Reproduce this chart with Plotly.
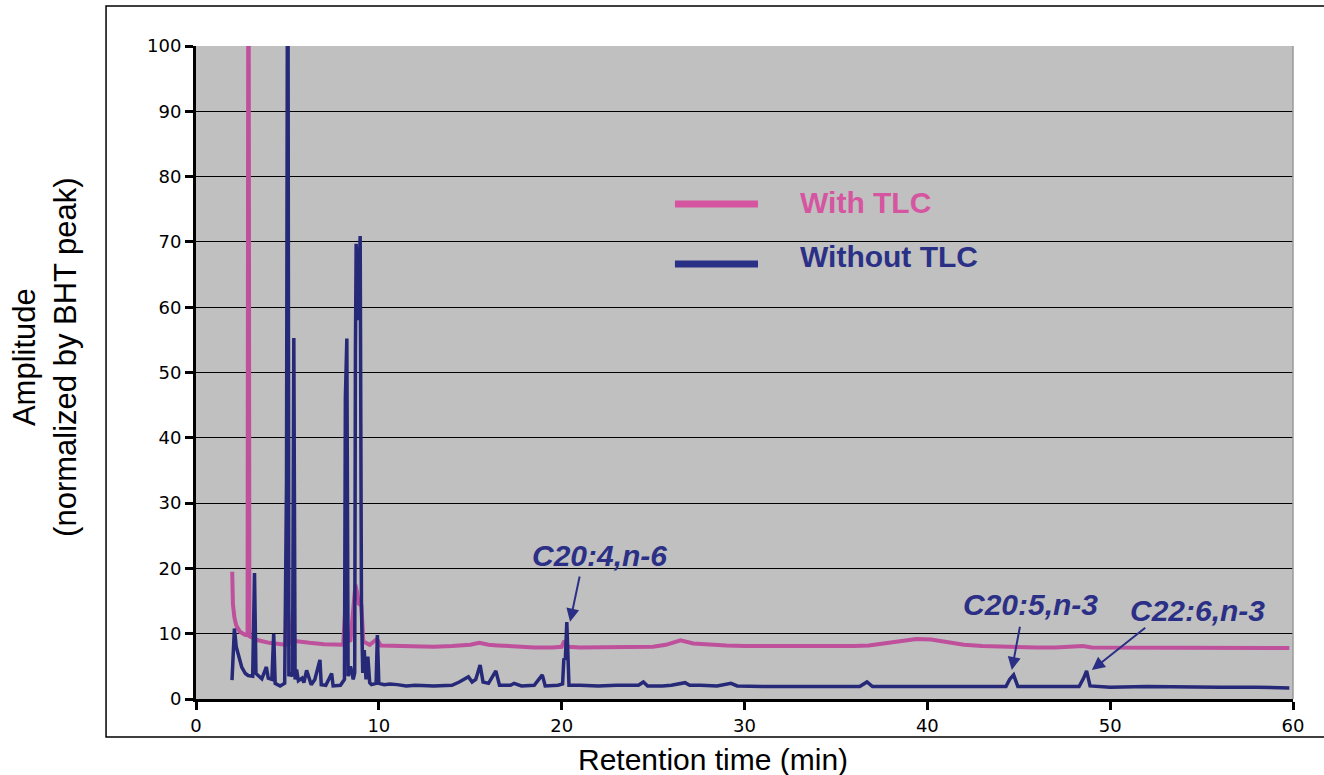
import plotly.graph_objects as go

# ---------------- data ----------------
with_tlc_t = [1.98, 2.02, 2.10, 2.20, 2.40, 2.70, 2.82, 2.87, 2.92, 3.00, 3.40, 4.00, 4.60, 4.90,
              4.96, 5.02, 5.20, 5.30, 5.38, 5.60, 6.20, 7.00, 7.80, 8.05, 8.15, 8.25, 8.45, 8.62,
              8.72, 8.80, 8.90, 9.05, 9.15, 9.50, 9.90, 10.1, 11.0, 12.0, 13.0, 14.0, 15.0, 15.5,
              16.0, 16.5, 17.5, 18.5, 19.5, 20.0, 20.15, 20.35, 21.0, 22.0, 23.0, 24.0, 25.0, 25.7,
              26.5, 27.2, 28.0, 29.0, 30.0, 31.0, 32.0, 33.0, 34.0, 35.0, 36.0, 36.8, 37.5, 38.5,
              39.4, 40.2, 41.0, 42.0, 43.0, 44.0, 45.0, 46.0, 47.0, 48.5, 49.0, 50.0, 52.0, 54.0,
              56.0, 58.0, 59.8]
with_tlc_v = [19.5, 14.5, 12.5, 11.3, 10.3, 9.8, 9.8, 140.0, 9.6, 9.5, 9.0, 8.6, 8.4, 8.3,
              21.0, 8.4, 8.6, 13.6, 8.9, 8.8, 8.6, 8.4, 8.3, 8.3, 13.1, 8.8, 9.0, 14.0,
              17.5, 16.5, 14.6, 14.3, 8.8, 8.3, 9.2, 8.2, 8.1, 8.1, 8.0, 8.1, 8.3, 8.6,
              8.3, 8.2, 8.0, 7.9, 7.9, 8.0, 8.9, 8.0, 7.9, 7.9, 7.9, 7.9, 8.0, 8.3,
              9.0, 8.5, 8.3, 8.2, 8.1, 8.1, 8.1, 8.1, 8.0, 8.0, 8.1, 8.2, 8.5, 8.9,
              9.2, 9.1, 8.7, 8.3, 8.1, 8.0, 8.0, 7.9, 7.9, 8.1, 7.9, 7.9, 7.9, 7.9,
              7.8, 7.8, 7.8]

without_tlc_t = [1.97, 2.05, 2.10, 2.20, 2.35, 2.50, 2.70, 2.85, 3.10, 3.20, 3.28, 3.45, 3.60, 3.85,
                 3.95, 4.15, 4.25, 4.33, 4.60, 4.85, 4.95, 5.02, 5.08, 5.15, 5.28, 5.35, 5.42, 5.50,
                 5.60, 5.80, 5.90, 6.05, 6.30, 6.50, 6.78, 6.85, 7.10, 7.42, 7.50, 7.90, 8.12, 8.17,
                 8.25, 8.32, 8.45, 8.60, 8.68, 8.72, 8.76, 8.85, 8.98, 9.05, 9.12, 9.20, 9.30, 9.40,
                 9.50, 9.60, 9.85, 9.92, 10.0, 10.3, 10.6, 11.0, 11.5, 12.0, 13.0, 14.0, 14.4, 14.9,
                 15.1, 15.3, 15.54, 15.7, 16.0, 16.4, 16.6, 17.2, 17.4, 17.8, 18.5, 18.94, 19.1, 19.8,
                 20.05, 20.12, 20.2, 20.28, 20.4, 21.0, 22.0, 23.0, 24.2, 24.47, 24.7, 25.5, 26.0, 26.75,
                 27.0, 27.6, 28.5, 29.26, 29.6, 31.0, 33.0, 34.5, 36.3, 36.7, 37.0, 39.0, 41.0, 43.0,
                 44.3, 44.5, 44.72, 44.95, 46.0, 47.5, 48.3, 48.55, 48.71, 48.9, 50.0, 52.0, 54.0, 56.0,
                 58.0, 59.8]
without_tlc_v = [2.9, 8.0, 10.8, 8.0, 6.5, 4.9, 3.9, 3.6, 3.5, 19.3, 3.9, 3.4, 3.1, 4.9,
                 3.2, 3.0, 10.0, 2.4, 2.0, 2.4, 33.0, 140.0, 3.5, 4.0, 3.5, 55.3, 3.0, 4.5,
                 2.8, 3.2, 2.5, 4.4, 2.2, 3.0, 6.0, 2.2, 2.1, 3.9, 2.0, 2.1, 3.0, 46.0,
                 55.2, 3.5, 5.0, 3.0, 4.0, 53.0, 69.7, 58.0, 70.9, 14.0, 4.0, 7.5, 3.0, 6.5,
                 2.5, 2.2, 2.4, 9.8, 2.4, 2.2, 2.3, 2.2, 2.0, 2.1, 2.0, 2.1, 2.6, 3.4,
                 2.6, 3.0, 5.2, 2.6, 2.4, 4.3, 2.1, 2.1, 2.4, 2.0, 2.1, 3.7, 2.0, 2.1,
                 2.3, 6.2, 6.0, 11.8, 2.1, 2.1, 2.0, 2.1, 2.1, 2.6, 2.0, 2.0, 2.1, 2.5,
                 2.1, 2.1, 2.0, 2.4, 2.0, 1.9, 1.9, 1.9, 1.9, 2.6, 1.9, 1.9, 1.9, 1.9,
                 1.9, 3.0, 3.7, 1.9, 1.9, 1.9, 1.9, 3.2, 4.3, 2.0, 1.8, 1.9, 1.8, 1.8,
                 1.8, 1.7]

series_names = ["With TLC", "Without TLC"]
peak_labels = ["C20:4,n-6", "C20:5,n-3", "C22:6,n-3"]
x_ticks = [0, 10, 20, 30, 40, 50, 60]
y_ticks = [0, 10, 20, 30, 40, 50, 60, 70, 80, 90, 100]

PINK = "#BE509C"
PINK_LEG = "#D655A0"
NAVY = "#262878"
NAVY_LEG = "#2B3087"

fig = go.Figure()
fig.add_trace(go.Scatter(x=with_tlc_t, y=with_tlc_v, mode="lines", name=series_names[0],
                         line=dict(color=PINK, width=4), showlegend=False))
fig.add_trace(go.Scatter(x=without_tlc_t, y=without_tlc_v, mode="lines", name=series_names[1],
                         line=dict(color=NAVY, width=3.5), showlegend=False))

fig.update_layout(
    width=1324, height=775,
    margin=dict(l=196, r=31, t=46, b=76),
    paper_bgcolor="white",
    plot_bgcolor="#C0C0C0",
    font=dict(family="Liberation Sans, Arial, sans-serif", color="black"),
)
fig.update_xaxes(range=[0, 60], tickvals=x_ticks, showgrid=False, zeroline=False,
                 showline=True, linecolor="black", linewidth=3,
                 ticks="outside", ticklen=8, tickwidth=3, tickcolor="black",
                 tickfont=dict(family="DejaVu Sans", size=18, color="black"))
fig.update_yaxes(range=[0, 100], tickvals=y_ticks, showgrid=True, gridcolor="black", gridwidth=1,
                 zeroline=False, showline=True, linecolor="black", linewidth=3,
                 ticks="outside", ticklen=8, tickwidth=3, tickcolor="black",
                 tickfont=dict(family="DejaVu Sans", size=18, color="black"))

# outer frame (right side runs past the image edge)
fig.add_shape(type="rect", xref="paper", yref="paper", x0=-0.082, x1=1.05, y0=-0.0582, y1=1.0613,
              line=dict(color="black", width=1.5), fillcolor="rgba(0,0,0,0)", layer="below")
# grey right edge of plot area
fig.add_shape(type="line", xref="paper", yref="paper", x0=1, x1=1, y0=0, y1=1,
              line=dict(color="#9A9A9A", width=1.5))

# axis titles
fig.add_annotation(xref="paper", yref="paper", x=0.471, y=-0.0934, xanchor="center", yanchor="middle",
                   text="Retention time (min)", showarrow=False, font=dict(size=30, color="black"))
fig.add_annotation(xref="paper", yref="paper", x=-0.1376, y=0.524, xanchor="center", yanchor="middle",
                   text="Amplitude<br>(normalized by BHT peak)", textangle=-90,
                   showarrow=False, font=dict(size=31, color="black"))

# custom legend
fig.add_shape(type="line", xref="paper", yref="paper", x0=0.4366, x1=0.5123, y0=0.758, y1=0.758,
              line=dict(color=PINK_LEG, width=7))
fig.add_shape(type="line", xref="paper", yref="paper", x0=0.4366, x1=0.5123, y0=0.6662, y1=0.6662,
              line=dict(color=NAVY_LEG, width=7))
fig.add_annotation(xref="paper", yref="paper", x=0.5488, y=0.7611, xanchor="left", yanchor="middle",
                   text="<b>" + series_names[0] + "</b>", showarrow=False,
                   font=dict(size=30, color=PINK_LEG))
fig.add_annotation(xref="paper", yref="paper", x=0.5488, y=0.6769, xanchor="left", yanchor="middle",
                   text="<b>" + series_names[1] + "</b>", showarrow=False,
                   font=dict(size=30, color=NAVY_LEG))

# peak labels and arrows
label_pos = [(22.05, 22.05), (45.62, 14.4), (54.8, 13.6)]
arrows = [((21.0, 19.0), (20.46, 11.84)),
          ((45.08, 11.3), (44.62, 4.44)),
          ((52.0, 11.1), (49.0, 4.44))]
for lab, (lx, ly), ((tx, ty), (hx, hy)) in zip(peak_labels, label_pos, arrows):
    fig.add_annotation(x=lx, y=ly, xanchor="center", yanchor="middle",
                       text="<b><i>" + lab + "</i></b>", showarrow=False,
                       font=dict(size=30, color="#2B2F86"))
    fig.add_annotation(x=hx, y=hy, ax=tx, ay=ty, axref="x", ayref="y", text="",
                       showarrow=True, arrowhead=2, arrowsize=1.3, arrowwidth=2,
                       arrowcolor="#2B2F86")

fig.write_html("out.html", config={"displayModeBar": False},
               post_script="document.body.style.margin='0';document.body.style.overflow='hidden';")
